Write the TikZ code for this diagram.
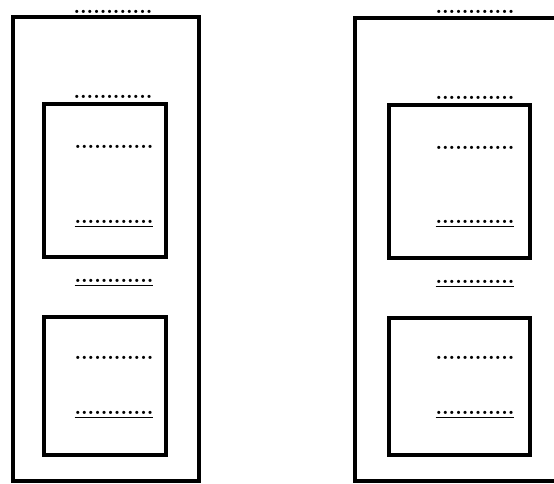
\documentclass[tikz,border=0pt]{standalone}
\begin{document}
\begin{tikzpicture}[x=0.5pt,y=-0.5pt,
  frame/.style={draw, line width=1.7pt, inner sep=0pt},
  blank/.style={inner sep=0pt, font=\fontsize{10.3}{12}\selectfont\bfseries}]
\useasboundingbox (0,0) rectangle (554,484);
\clip (0,0) rectangle (554,484);
% left column
\node (leftframe) [frame, minimum width=186*0.5pt, minimum height=464*0.5pt] at (106,249) {};
\node (leftupper) [frame, minimum width=122*0.5pt, minimum height=153*0.5pt] at (105,180.5) {};
\node (leftlower) [frame, minimum width=122*0.5pt, minimum height=138*0.5pt] at (105,386) {};
\node (ltitle) [blank] at (113,12) {............};
\node (lupname) [blank] at (113,97) {............};
\node (lupin) [blank] at (114,147) {............};
\node (lupfoot) [blank] at (114,224) {\underline{............}};
\node (lmid) [blank] at (114,283) {\underline{............}};
\node (llowin) [blank] at (114,358) {............};
\node (llowfoot) [blank] at (114,415) {\underline{............}};
% right column
\node (rightframe) [frame, minimum width=250*0.5pt, minimum height=463*0.5pt] at (480,249.5) {};
\node (rightupper) [frame, minimum width=141*0.5pt, minimum height=153*0.5pt] at (459.5,181.5) {};
\node (rightlower) [frame, minimum width=141*0.5pt, minimum height=137*0.5pt] at (459.5,386.5) {};
\node (rtitle) [blank] at (475,12) {............};
\node (rupname) [blank] at (475,98) {............};
\node (rupin) [blank] at (475,148) {............};
\node (rupfoot) [blank] at (475,224) {\underline{............}};
\node (rmid) [blank] at (475,284) {\underline{............}};
\node (rlowin) [blank] at (475,358) {............};
\node (rlowfoot) [blank] at (475,415) {\underline{............}};
\end{tikzpicture}
\end{document}
